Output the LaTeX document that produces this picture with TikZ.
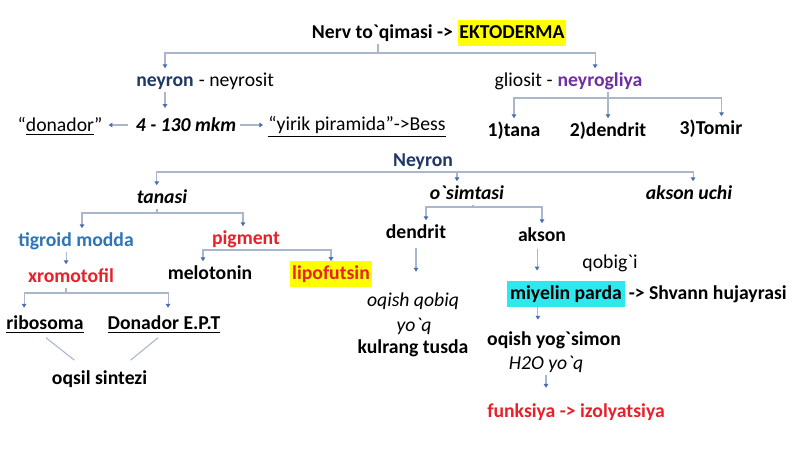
\documentclass[tikz,border=0pt]{standalone}
\usepackage{fontspec}
\setmainfont{Carlito}[Ligatures=TeXOff]
\usetikzlibrary{positioning,arrows.meta,calc}

\definecolor{navy}{HTML}{203864}
\definecolor{glpurple}{HTML}{7030A0}
\definecolor{tblue}{HTML}{2E75B6}
\definecolor{txtred}{HTML}{E8202A}
\definecolor{hlyellow}{HTML}{FFFF00}
\definecolor{hlcyan}{HTML}{2EE8EE}
\definecolor{linkgray}{HTML}{A9B6CC}
\definecolor{tipblue}{HTML}{4A6FB0}

\begin{document}
\begin{tikzpicture}[x=0.02cm, y=-0.02cm,
  txt/.style={inner sep=0pt, font=\fontsize{11.2}{13}\selectfont, execute at begin node=\rule[-2.6pt]{0pt}{13pt}},
  bld/.style={txt, font=\fontsize{11.2}{13}\selectfont\bfseries},
  bit/.style={txt, font=\fontsize{11.2}{13}\selectfont\bfseries\itshape},
  ita/.style={txt, font=\fontsize{11.2}{13}\selectfont\itshape},
  hlbox/.style={fill=#1, inner xsep=1pt, execute at begin node=\strut},
  link/.style={draw=linkgray, line width=0.6pt},
  arr/.style={link, -{Triangle[length=2.2pt, width=2.6pt, color=tipblue]}}]
  \fill[white] (0,0) rectangle (800,449);
  \useasboundingbox (0,0) rectangle (800,449);

  % top level
  \node[bld, hlbox=hlyellow] (ekto) at (512,33) {EKTODERMA};
  \node[bld, anchor=base east] (nerv) at ([xshift=-2.3pt]ekto.base west) {Nerv to`qimasi ->};
  \node[bld, text=navy] (neyron) at (165,80) {neyron};
  \node[txt, right=2.5pt of neyron] (neyrosit) {- neyrosit};
  \node[bld, text=glpurple] (neyrogliya) at (600,80) {neyrogliya};
  \node[txt, left=2.5pt of neyrogliya] (gliosit) {gliosit -};

  \node[bit] (mkm) at (186,125) {4 - 130 mkm};
  \node[txt] (donador) at (60,125) {“\underline{donador}”};
  \node[txt] (yirik) at (357,125) {\underline{“yirik piramida”->Bess}};

  \node[bld] (tana) at (514,130) {1)tana};
  \node[bld] (dendr2) at (608,130) {2)dendrit};
  \node[bld] (tomir) at (711,128) {3)Tomir};

  % Neyron tree
  \node[bld, text=navy] (neyronB) at (423,160) {Neyron};
  \node[bit] (tanasi) at (162,197) {tanasi};
  \node[bit] (osim) at (467,193) {o`simtasi};
  \node[bit] (uchi) at (689,193) {akson uchi};

  \node[bld, text=tblue] (tigroid) at (76,240) {tigroid modda};
  \node[bld, text=txtred] (pigment) at (246,238) {pigment};
  \node[bld, text=txtred] (xromo) at (71,276) {xromotofil};
  \node[bld] (melo) at (210,273) {melotonin};
  \node[bld, text=txtred, hlbox=hlyellow] (lipo) at (331,274) {lipofutsin};
  \node[bld] (ribo) at (45,323) {\underline{ribosoma}};
  \node[bld] (donEPT) at (164,323) {\underline{Donador E.P.T}};
  \node[bld] (oqsil) at (99.5,378) {oqsil sintezi};

  \node[bld] (dendrit) at (416,232) {dendrit};
  \node[bld] (akson) at (542,235) {akson};
  \node[ita] (qobiq) at (413,300) {oqish qobiq};
  \node[ita] (yoq) at (414,325) {yo`q};
  \node[bld] (kulrang) at (413,347) {kulrang tusda};
  \node[txt] (qobigi) at (610,262) {qobig`i};
  \node[bld, hlbox=hlcyan, inner xsep=1.5pt] (miyelin) at (566,294) {miyelin parda};
  \node[bld, anchor=base west] (shvann) at ([xshift=2pt]miyelin.base east) {-> Shvann hujayrasi};
  \node[bld] (yogs) at (554,339) {oqish yog`simon};
  \node[ita] (h2o) at (546,363) {H2O yo`q};
  \node[bld, text=txtred] (funk) at (576,411) {funksiya -> izolyatsiya};

  % junctions
  \coordinate (jt) at (378,53);
  \coordinate (jg) at (608,98);
  \coordinate (jn) at (423,172);
  \coordinate (jta) at (157,213);
  \coordinate (jx) at (66,293);
  \coordinate (jp) at (253,250);
  \coordinate (jo) at (473,207);

  \draw[link] (nerv.south -| jt) -- (jt);
  \draw[arr] (jt) -| (neyron);
  \draw[arr] (jt) -| ([xshift=-2.8pt]neyrogliya.north);

  \draw[arr, shorten >=3pt] (neyron.south) -- (neyron.south |- mkm.north);
  \draw[arr, shorten <=4pt, shorten >=3.4pt] (mkm.west) -- (donador.east);
  \draw[arr, shorten <=1.7pt, shorten >=2.8pt] (mkm.east) -- (yirik.west);

  \draw[link] (neyrogliya.south -| jg) -- (jg);
  \draw[arr] (jg) -| (tana);
  \draw[arr] (jg) -| (dendr2);
  \draw[arr] (jg) -| ([xshift=6pt]tomir.north);

  \draw[arr] (jn) -| ([xshift=-3pt]tanasi.north);
  \draw[arr] (jn) -| ([xshift=-5.7pt]osim.north);
  \draw[arr] (jn) -| ([xshift=2.3pt]uchi.north);

  \draw[link] (tanasi.south -| jta) -- (jta);
  \draw[arr] (jta) -| ([xshift=3.4pt]tigroid.north);
  \draw[arr] (jta) -| ([xshift=-1.7pt]pigment.north);
  \draw[arr] ([xshift=-2.8pt]xromo.north |- tigroid.south) -- ([xshift=-2.8pt]xromo.north);

  \draw[link] (xromo.south -| jx) -- (jx);
  \draw[arr] (jx) -| ([xshift=-11.9pt, yshift=2pt]ribo.north);
  \draw[arr] (jx) -| ([xshift=2.3pt, yshift=2pt]donEPT.north);
  \draw[link] ($(ribo.south)+(1,3)$) -- ($(oqsil.north)+(-25,-6)$);
  \draw[link] ($(donEPT.south)+(-6,3)$) -- ($(oqsil.north)+(31,-6)$);

  \draw[link] (pigment.south -| jp) -- (jp);
  \draw[arr] (jp) -| ([xshift=-4pt]melo.north);
  \draw[arr] (jp) -| (lipo.north);

  \draw[link] (osim.south -| jo) -- (jo);
  \draw[arr] (jo) -| ([xshift=5.7pt]dendrit.north);
  \draw[arr] (jo) -| (akson.north);

  \draw[arr, shorten <=2.5pt, shorten >=9.4pt] (dendrit.south) -- (dendrit.south |- qobiq.north);
  \coordinate (ak) at ([xshift=-2.8pt]akson.south);
  \draw[arr, shorten <=1pt, shorten >=6pt] (ak) -- (ak |- miyelin.north);
  \coordinate (mp) at ([xshift=-16pt]miyelin.south);
  \draw[arr, shorten >=4.3pt] (mp) -- (mp |- yogs.north);
  \draw[arr, shorten >=6.5pt] (h2o.south) -- (h2o.south |- funk.north);
\end{tikzpicture}
\end{document}
